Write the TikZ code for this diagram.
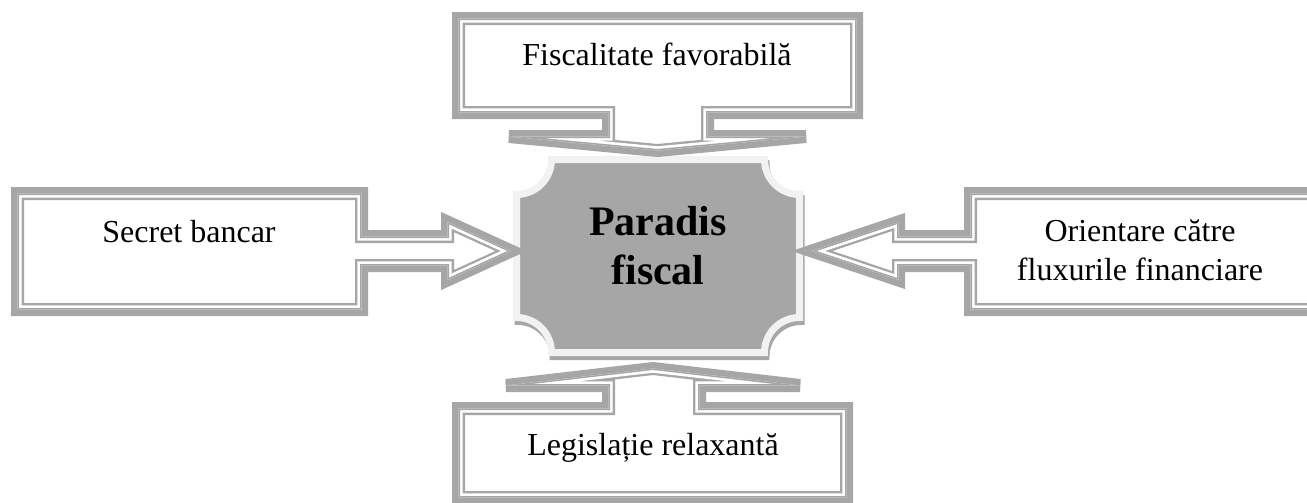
\documentclass[tikz,border=0pt]{standalone}
\usepackage{fontspec}
\setmainfont{Liberation Serif}

\definecolor{framegray}{HTML}{A6A6A6}
\definecolor{bordergray}{HTML}{F2F2F2}

\tikzset{
  boxtext/.style={font=\fontsize{16}{19.25}\selectfont, inner sep=0pt},
  centertext/.style={font=\fontsize{21}{24.5}\selectfont\bfseries, inner sep=0pt, align=center}
}

% thick-thin frame of a callout, drawn round a closed path
\newcommand{\callframe}[1]{%
  \fill[white] #1;
  \draw[framegray, line width=6.5pt] #1;
  \begin{scope}
    \clip #1;
    \draw[white, line width=4.2pt] #1;
    \draw[framegray, line width=1.5pt] #1;
  \end{scope}}

\begin{document}
\begin{tikzpicture}[x=0.5pt, y=-0.5pt]

\useasboundingbox (0,0) rectangle (1307,503);
\clip (0,0) rectangle (1307,503);

\def\xl{516.5};
\def\xr{799.5};
\def\yt{159.5};
\def\yb{352.5};
\def\rc{35};

% shadow
\begin{scope}[shift={(1.5,4)}]
\filldraw[framegray, line width=3.5pt] (\xl+\rc,\yt) -- (\xr-\rc,\yt)
  arc[start angle=180, end angle=90, radius=\rc] -- (\xr,\yb-\rc)
  arc[start angle=270, end angle=180, radius=\rc] -- (\xl+\rc,\yb)
  arc[start angle=0, end angle=-90, radius=\rc] -- (\xl,\yt+\rc)
  arc[start angle=90, end angle=0, radius=\rc] -- cycle;
\end{scope}

\filldraw[fill=framegray, draw=bordergray, line width=3.5pt] (\xl+\rc,\yt) -- (\xr-\rc,\yt)
  arc[start angle=180, end angle=90, radius=\rc] -- (\xr,\yb-\rc)
  arc[start angle=270, end angle=180, radius=\rc] -- (\xl+\rc,\yb)
  arc[start angle=0, end angle=-90, radius=\rc] -- (\xl,\yt+\rc)
  arc[start angle=90, end angle=0, radius=\rc] -- cycle;

\node[centertext] (paradis) at (658,246) {Paradis\\fiscal};

% top
\callframe{(458.5,18.5) -- (856.5,18.5) -- (856.5,112.5) -- (707.5,112.5) -- (707.5,136.5)
  -- (806,136.5) -- (657.5,150.5) -- (509,136.5) -- (608.5,136.5) -- (608.5,112.5)
  -- (458.5,112.5) -- cycle}
% bottom
\callframe{(458.5,497.5) -- (846.5,497.5) -- (846.5,408.5) -- (699.5,408.5) -- (699.5,385.5)
  -- (800,385.5) -- (653,368.5) -- (506,385.5) -- (608.5,385.5) -- (608.5,408.5)
  -- (458.5,408.5) -- cycle}
% left
\callframe{(17.5,193.5) -- (361.5,193.5) -- (361.5,236.5) -- (447.5,236.5) -- (447.5,222)
  -- (511,251) -- (447.5,280) -- (447.5,265.5) -- (361.5,265.5) -- (361.5,309.5)
  -- (17.5,309.5) -- cycle}
% right
\callframe{(1314.5,193.5) -- (970.5,193.5) -- (970.5,236.5) -- (898.5,236.5) -- (898.5,222)
  -- (812,251) -- (898.5,280) -- (898.5,265.5) -- (970.5,265.5) -- (970.5,309.5)
  -- (1314.5,309.5) -- cycle}

\node[boxtext, anchor=base] (fiscalitate) at (657,65) {Fiscalitate favorabilă};
\node[boxtext, anchor=base] (legislatie) at (653,455) {Legislație relaxantă};
\node[boxtext, anchor=base] (secret) at (189,242) {Secret bancar};
\node[boxtext, align=center] (orientare) at (1140,250) {Orientare către\\fluxurile financiare};

\end{tikzpicture}
\end{document}
